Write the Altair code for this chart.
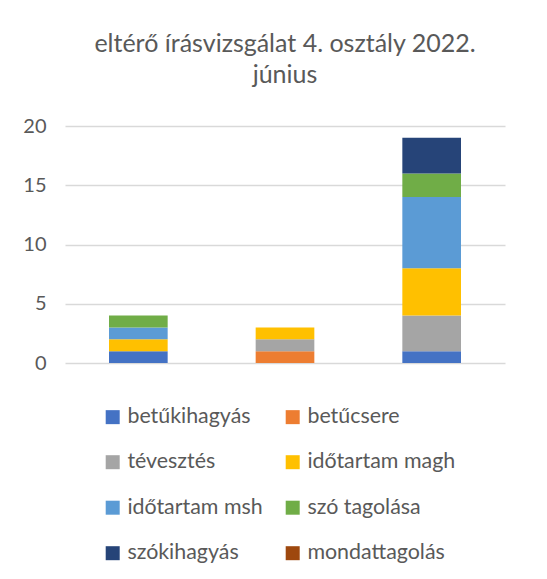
import altair as alt
import pandas as pd

categories = ["1", "2", "3"]
series = ["betűkihagyás", "betűcsere", "tévesztés", "időtartam magh",
          "időtartam msh", "szó tagolása", "szókihagyás", "mondattagolás"]
values = {
    "betűkihagyás":   [1, 0, 1],
    "betűcsere":      [0, 1, 0],
    "tévesztés":      [0, 1, 3],
    "időtartam magh": [1, 1, 4],
    "időtartam msh":  [1, 0, 6],
    "szó tagolása":   [1, 0, 2],
    "szókihagyás":    [0, 0, 3],
    "mondattagolás":  [0, 0, 0],
}
colors = ["#4472C4", "#ED7D31", "#A5A5A5", "#FFC000",
          "#5B9BD5", "#70AD47", "#264478", "#9E480E"]

rows = []
for si, s in enumerate(series):
    for ci, c in enumerate(categories):
        rows.append({"cat": c, "series": s, "value": values[s][ci], "ord": si})
df = pd.DataFrame(rows)

FONT = "Lato"
GREY = "#595959"

chart = alt.Chart(df).mark_bar().encode(
    x=alt.X("cat:N", sort=categories, axis=None,
            scale=alt.Scale(paddingInner=0.6, paddingOuter=0.3)),
    y=alt.Y("value:Q", stack="zero",
            scale=alt.Scale(domain=[0, 20], nice=False),
            axis=alt.Axis(values=[0, 5, 10, 15, 20], title=None, domain=False,
                          ticks=False, gridColor="#D9D9D9", gridWidth=1.5,
                          labelFontSize=20, labelColor=GREY, labelFont=FONT,
                          labelPadding=19)),
    color=alt.Color("series:N", scale=alt.Scale(domain=series, range=colors),
                    legend=alt.Legend(title=None, orient="none", legendX=37,
                                      legendY=280, columns=2, direction="horizontal",
                                      columnPadding=19,
                                      rowPadding=22.5, symbolType="square",
                                      symbolSize=196, symbolStrokeWidth=0,
                                      labelFontSize=21.4, labelColor=GREY,
                                      labelFont=FONT, labelOffset=4)),
    order=alt.Order("ord:Q"),
).properties(
    width=440, height=237,
    title=alt.TitleParams(["eltérő írásvizsgálat 4. osztály 2022.", "június"],
                          fontSize=25, font=FONT, color=GREY, fontWeight="normal",
                          anchor="middle", offset=28, lineHeight=31),
    autosize=alt.AutoSizeParams(type="none"),
    padding={"left": 57, "top": 118, "right": 34, "bottom": 205},
).configure_view(stroke=None)

chart.save("out.html", embed_options={"renderer": "svg", "actions": False})
